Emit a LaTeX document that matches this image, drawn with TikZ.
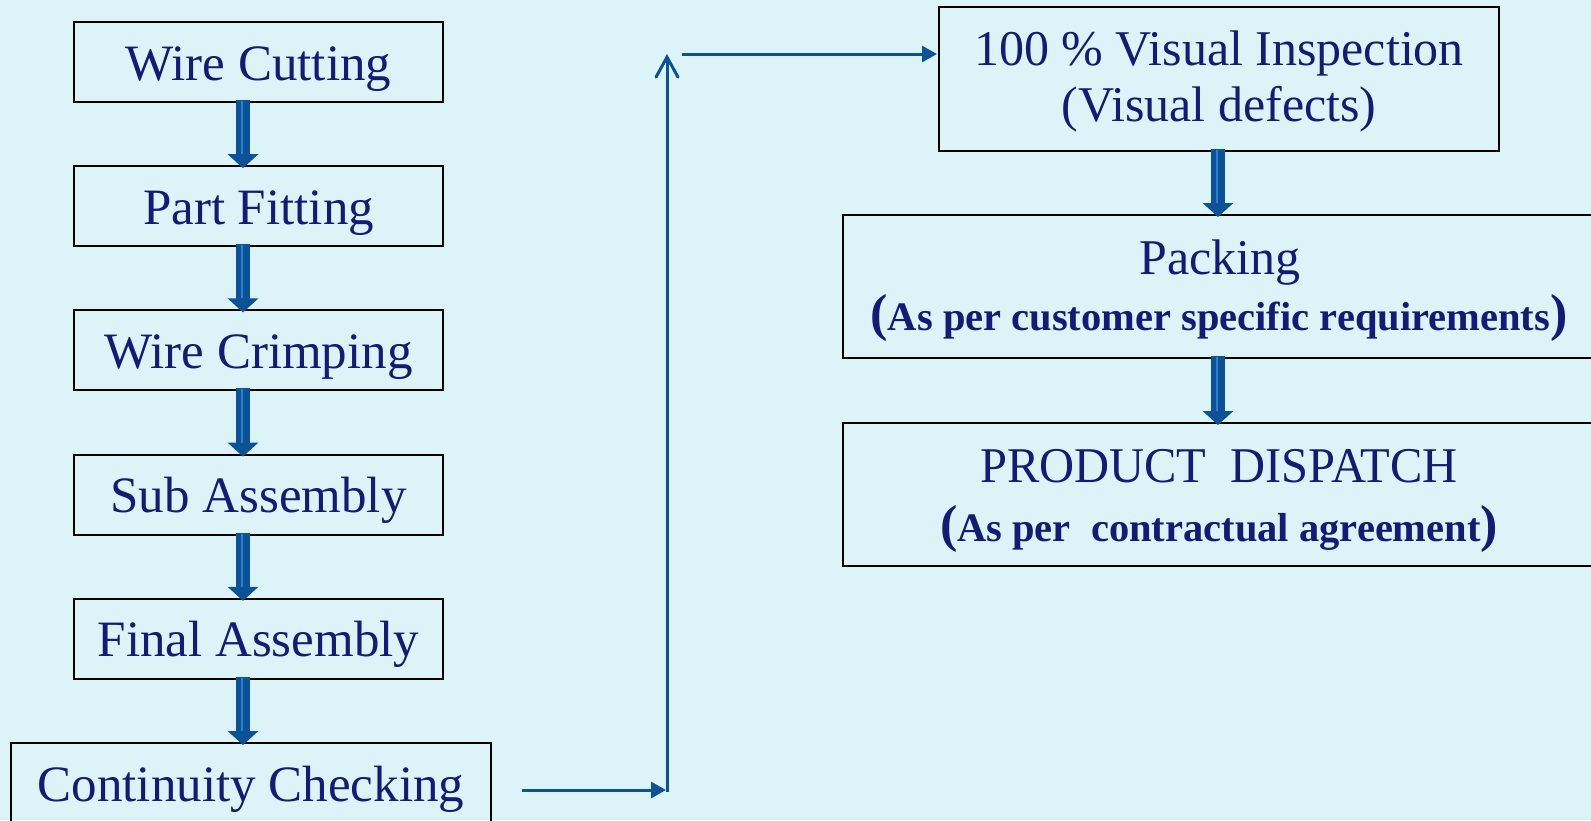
\documentclass[tikz,border=0pt]{standalone}
\usepackage{fontspec}
\setmainfont{Liberation Serif}
\usetikzlibrary{arrows.meta,calc}
\definecolor{bg}{RGB}{220,244,248}
\definecolor{txt}{RGB}{18,28,118}
\definecolor{arr}{RGB}{12,82,150}
\definecolor{arrl}{RGB}{45,125,210}
\newcommand{\bigp}[1]{{\fontsize{52}{54}\selectfont #1}}
\begin{document}
\begin{tikzpicture}[x=1pt,y=-1pt,
  box/.style={draw=black,line width=2pt,inner sep=0pt},
  lbox/.style={box,minimum width=369pt,minimum height=80pt,text=txt,font=\fontsize{51}{56}\selectfont,text height=36pt,text depth=0pt},
  lbl/.style={text=txt,inner sep=0pt,font=\fontsize{50}{56}\selectfont},
  sub/.style={text=txt,inner sep=0pt,font=\bfseries\fontsize{40.5}{44}\selectfont},
  barrow/.style={draw=arr,line width=14pt,-{Triangle[width=30pt,length=14pt]},shorten <=-3pt,shorten >=-3pt},
  stripe/.style={draw=arrl,line width=2pt},
  tarrow/.style={draw=arr,line width=3pt,-{Triangle[width=16pt,length=15pt]}},
  oarrow/.style={draw=arr,line width=3pt,-{Straight Barb[width=22pt,length=20pt,line cap=round]}}
]
\fill[bg] (0,0) rectangle (1591,820);
\useasboundingbox (0,0) rectangle (1591,820);
% left column
\node[lbox] (n1) at (258.5,62) {Wire Cutting};
\node[lbox] (n2) at (258.5,206.2) {Part Fitting};
\node[lbox] (n3) at (258.5,350.4) {Wire Crimping};
\node[lbox] (n4) at (258.5,494.6) {Sub Assembly};
\node[lbox] (n5) at (258.5,638.8) {Final Assembly};
\node[lbox,minimum width=480pt] (n6) at (251,783) {Continuity Checking};
\foreach \a/\b in {n1/n2,n2/n3,n3/n4,n4/n5,n5/n6}{
  \coordinate (s) at ($(\a.south)+(-15.5,0)$);
  \coordinate (sl) at ($(\a.south)+(-16.5,-2)$);
  \draw[barrow] (s) -- (s |- \b.north);
  \draw[stripe] (sl) -- ($(sl |- \b.north)+(0,-11)$);
}
% right column
\node[box,minimum width=560pt,minimum height=144pt] (vis) at (1219,79) {};
\node[lbl] (vis1) at (1219,53) {100 \% Visual Inspection};
\node[lbl] (vis2) at (1219,109) {(Visual defects)};
\node[box,minimum width=752pt,minimum height=143pt] (pack) at (1219,286.5) {};
\node[lbl] (pack1) at (1220,263) {Packing};
\node[sub] (pack2) at (1219,318) {\bigp{(}As per customer specific requirements\bigp{)}};
\node[box,minimum width=752pt,minimum height=143pt] (disp) at (1219,494.5) {};
\node[lbl,xscale=0.97] (disp1) at (1219,466) {PRODUCT\ \ DISPATCH};
\node[sub] (disp2) at (1219,529) {\bigp{(}As per\ \ contractual agreement\bigp{)}};
\draw[barrow] ($(vis.south)+(-1,0)$) -- ($(pack.north)+(-1,0)$);
\draw[stripe] ($(vis.south)+(-2,-2)$) -- ($(pack.north)+(-2,-11)$);
\draw[barrow] ($(pack.south)+(-1,0)$) -- ($(disp.north)+(-1,0)$);
\draw[stripe] ($(pack.south)+(-2,-2)$) -- ($(disp.north)+(-2,-11)$);
% connectors
\coordinate (c1) at (522,790);
\coordinate (c2) at (667,790);
\coordinate (c2b) at (667,791.5);
\coordinate (c3) at (667,54);
\coordinate (c4) at (682,54);
\draw[tarrow,shorten >=1pt] (c1) -- (c2);
\draw[oarrow] (c2b) -- (c3);
\draw[tarrow,shorten >=1pt] (c4) -- (c4 -| vis.west);
\end{tikzpicture}
\end{document}
